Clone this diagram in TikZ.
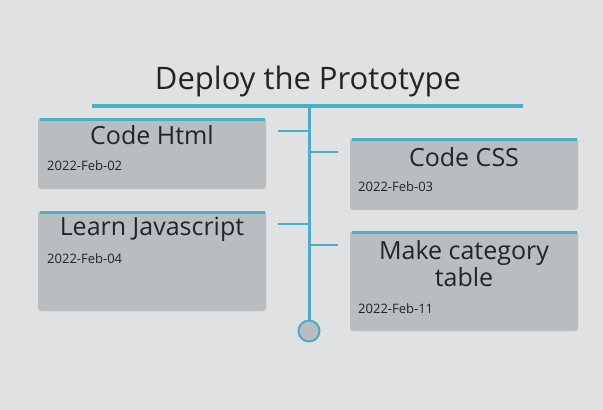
\documentclass[tikz,border=0pt]{standalone}
\usepackage{fontspec}
\setmainfont{Open Sans}
\definecolor{bg}{HTML}{E0E1E3}
\definecolor{accent}{HTML}{4AAEC7}
\definecolor{boxfill}{HTML}{B9BDBF}
\definecolor{ink}{HTML}{222428}
\begin{document}
\begin{tikzpicture}[x=1pt,y=-1pt,
  card/.style={fill=boxfill, rounded corners=3pt},
  cardtop/.style={draw=accent, line width=3pt},
  link/.style={draw=accent, line width=2pt},
  heading/.style={text=ink, font=\fontsize{31}{36}\selectfont, inner sep=0pt},
  cardtitle/.style={text=ink, font=\fontsize{25}{27}\selectfont, inner sep=0pt, align=center},
  datetext/.style={text=ink, font=\fontsize{13}{15}\selectfont, inner sep=0pt, anchor=west}]
\fill[bg] (0,0) rectangle (603,410);
\useasboundingbox (0,0) rectangle (603,410);
% title
\node[heading] (title) at (308,81) {Deploy the Prototype};
\coordinate (hl) at (92,106);
\coordinate (hr) at (523,106);
\draw[accent, line width=3.5pt] (hl) -- (hr);
% spine
\coordinate (top) at (309,106);
\node[circle, draw=accent, fill=boxfill, line width=2pt, minimum size=21pt, inner sep=0pt] (end) at (309,331) {};
\draw[accent, line width=3pt] (top) -- (end.north);
% cards
\fill[card] (38,118) rectangle (266,189);
\draw[cardtop] (39.5,119.5) -- (264.5,119.5);
\node[cardtitle] (t1) at (152,135.5) {Code Html};
\node[datetext] (d1) at (47,166) {2022-Feb-02};

\fill[card] (350,138) rectangle (578,210);
\draw[cardtop] (351.5,139.5) -- (576.5,139.5);
\node[cardtitle] (t2) at (464,157.5) {Code CSS};
\node[datetext] (d2) at (358,187) {2022-Feb-03};

\fill[card] (38,211) rectangle (266,311);
\draw[cardtop] (39.5,212.5) -- (264.5,212.5);
\node[cardtitle] (t3) at (152,229.5) {Learn Javascript};
\node[datetext] (d3) at (47,259) {2022-Feb-04};

\fill[card] (350,231) rectangle (578,331);
\draw[cardtop] (351.5,232.5) -- (576.5,232.5);
\node[cardtitle] (t4) at (464,263.5) {Make category\\table};
\node[datetext] (d4) at (358,309) {2022-Feb-11};
% connectors
\coordinate (c1a) at (278,131); \coordinate (c1b) at (309,131);
\coordinate (c2a) at (309,152); \coordinate (c2b) at (338,152);
\coordinate (c3a) at (278,224); \coordinate (c3b) at (309,224);
\coordinate (c4a) at (309,245); \coordinate (c4b) at (338,245);
\draw[link] (c1a) -- (c1b);
\draw[link] (c2a) -- (c2b);
\draw[link] (c3a) -- (c3b);
\draw[link] (c4a) -- (c4b);
\end{tikzpicture}
\end{document}
